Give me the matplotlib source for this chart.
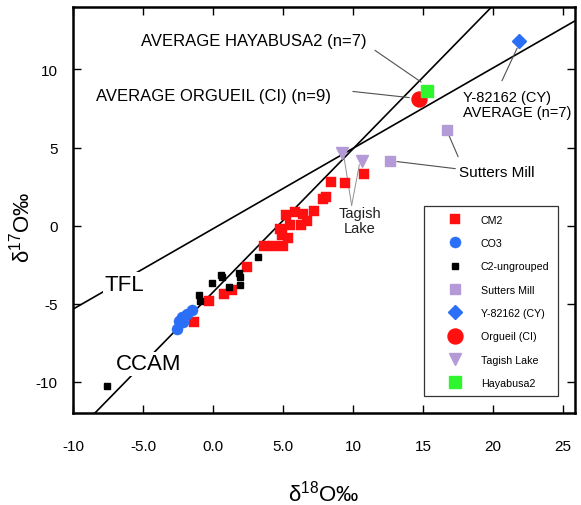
import matplotlib
matplotlib.use("Agg")
import matplotlib.pyplot as plt
import numpy as np

plt.rcParams['font.family'] = ['Liberation Sans', 'DejaVu Sans']
plt.rcParams['mathtext.fontset'] = 'custom'
plt.rcParams['mathtext.rm'] = 'Liberation Sans'
plt.rcParams['mathtext.it'] = 'Liberation Sans:italic'

# ---- data ----
cm2_x = [-1.35, -0.3, 0.78, 1.37, 2.4, 3.64, 4.31, 4.98, 5.38, 4.79, 4.9, 5.5, 6.25, 6.72,
         5.21, 5.83, 6.45, 7.22, 7.84, 8.05, 8.4, 9.43, 10.8]
cm2_y = [-6.17, -4.83, -4.36, -4.1, -2.62, -1.28, -1.28, -1.28, -0.79, -0.22, -0.6, 0.06,
         0.06, 0.28, 0.66, 0.86, 0.74, 0.93, 1.69, 1.86, 2.78, 2.76, 3.29]
co3_x = [-1.52, -1.88, -2.24, -2.12, -2.4, -2.6]
co3_y = [-5.38, -5.64, -5.85, -6.18, -6.13, -6.6]
c2_x = [-7.55, -1.02, -0.93, -0.09, 0.57, 0.64, 1.14, 1.88, 1.9, 1.96, 3.2]
c2_y = [-10.28, -4.47, -4.82, -3.7, -3.18, -3.3, -3.93, -3.03, -3.3, -3.8, -2.03]
sm_x = [12.64, 16.69]
sm_y = [4.12, 6.11]
y82_x = [21.86]
y82_y = [11.84]
org_x = [14.74]
org_y = [8.1]
tl_x = [9.19, 10.62]
tl_y = [4.68, 4.12]
hy_x = [15.31]
hy_y = [8.63]

tfl_slope, tfl_int = 0.515, -0.2
ccam_slope, ccam_int = 0.918, -4.26

xticks = [-10, -5, 0, 5, 10, 15, 20, 25]
xticklabels = ['-10', '-5.0', '0.0', '5.0', '10', '15', '20', '25']
yticks = [-10, -5, 0, 5, 10]
yticklabels = ['-10', '-5', '0', '5', '10']

RED = '#FF1010'
BLUE = '#2A6FF5'
LAV = '#B49AD6'
GREEN = '#2EF52E'

fig = plt.figure(figsize=(5.81, 5.06), dpi=100)
ax = fig.add_axes([73/581, 1-414/506, (575-73)/581, (414-8)/506])
ax.set_xlim(-10, 25.85)
ax.set_ylim(-12, 14)

xx = np.array([-12, 28])
ax.plot(xx, tfl_slope*xx + tfl_int, color='black', lw=1.2, zorder=1)
ax.plot(xx, ccam_slope*xx + ccam_int, color='black', lw=1.2, zorder=1)

ax.text(-6.35, -3.75, 'TFL', fontsize=16, ha='center', va='center', zorder=2,
        bbox=dict(facecolor='white', edgecolor='none', pad=1))
ax.text(-4.57, -8.85, 'CCAM', fontsize=16, ha='center', va='center', zorder=2,
        bbox=dict(facecolor='white', edgecolor='none', pad=1))

# annotation leader lines
lc = '#505050'
ax.plot([11.57, 14.85], [11.22, 9.2], color=lc, lw=0.8, zorder=1.5)
ax.plot([10.0, 14.0], [8.59, 8.2], color=lc, lw=0.8, zorder=1.5)
ax.plot([20.64, 21.71], [9.29, 11.35], color=lc, lw=0.8, zorder=1.5)
ax.plot([17.29, 13.14], [3.65, 4.1], color=lc, lw=0.8, zorder=1.5)
ax.plot([17.5, 16.79], [4.42, 5.9], color=lc, lw=0.8, zorder=1.5)
ax.plot([9.9, 9.35], [1.3, 4.4], color='#909090', lw=0.7, zorder=1.5)
ax.plot([9.9, 10.45], [1.3, 3.9], color='#909090', lw=0.7, zorder=1.5)

ax.plot(cm2_x, cm2_y, 's', color=RED, ms=7.2, mec=RED, mew=0.3, ls='none', zorder=3, label='CM2')
ax.plot(co3_x, co3_y, 'o', color=BLUE, ms=8, mec=BLUE, mew=0.3, ls='none', zorder=3, label='CO3')
ax.plot(c2_x, c2_y, 's', color='black', ms=4.5, ls='none', zorder=3, label='C2-ungrouped')
ax.plot(sm_x, sm_y, 's', color=LAV, ms=7.2, mec=LAV, ls='none', zorder=3, label='Sutters Mill')
ax.plot(y82_x, y82_y, 'D', color=BLUE, ms=7.5, mec=BLUE, ls='none', zorder=3, label='Y-82162 (CY)')
ax.plot(org_x, org_y, 'o', color=RED, ms=10.8, mec=RED, ls='none', zorder=3, label='Orgueil (CI)')
ax.plot(tl_x, tl_y, 'v', color=LAV, ms=8.6, mec=LAV, ls='none', zorder=3, label='Tagish Lake')
ax.plot(hy_x, hy_y, 's', color=GREEN, ms=8.6, mec=GREEN, ls='none', zorder=3, label='Hayabusa2')

ax.text(2.93, 11.86, 'AVERAGE HAYABUSA2 (n=7)', fontsize=12, ha='center', va='center')
ax.text(0.0, 8.35, 'AVERAGE ORGUEIL (CI) (n=9)', fontsize=12, ha='center', va='center')
ax.text(17.86, 7.76, 'Y-82162 (CY)\nAVERAGE (n=7)', fontsize=10.5, ha='left', va='center',
        linespacing=1.15)
ax.text(17.55, 3.46, 'Sutters Mill', fontsize=11, ha='left', va='center')
ax.text(10.5, 0.32, 'Tagish\nLake', fontsize=10.5, ha='center', va='center', linespacing=1.05,
        color='#202020')

leg = ax.legend(loc='upper left', bbox_to_anchor=(0.688, 0.522), fontsize=7.7,
                numpoints=1, handlelength=4.3, handletextpad=0.25, labelspacing=1.24,
                borderpad=0.8, fancybox=False, framealpha=1, edgecolor='#333333')
leg.get_frame().set_linewidth(0.9)

ax.set_xticks(xticks)
ax.set_xticklabels(xticklabels)
ax.set_yticks(yticks)
ax.set_yticklabels(yticklabels)
ax.tick_params(direction='in', top=True, right=True, length=5.5, width=1.0, labelsize=11)
ax.tick_params(axis='x', pad=19)
ax.tick_params(axis='y', pad=11)
for s in ax.spines.values():
    s.set_linewidth(1.8)

ax.set_xlabel(r'$\mathregular{\delta^{18}}$O‰', fontsize=16)
ax.xaxis.label.set_va('center')
ax.xaxis.set_label_coords(0.5, (414-494)/406)
ax.set_ylabel(r'$\mathregular{\delta^{17}}$O‰', fontsize=16)
ax.yaxis.label.set_va('center')
ax.yaxis.set_label_coords((22-73)/502, 0.46)

fig.savefig('out.png', dpi=100)
